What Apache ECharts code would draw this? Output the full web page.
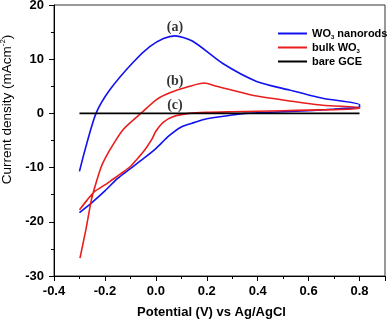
<!DOCTYPE html>
<html>
<head>
<meta charset="utf-8">
<script src="https://cdn.jsdelivr.net/npm/echarts@6/dist/echarts.min.js"></script>
<style>
  html, body { margin: 0; padding: 0; background: #fff; }
  #chart { width: 387px; height: 320px; }
</style>
</head>
<body>
<div id="chart"></div>
<script>
  // CV curves: [potential (V), current density (mA/cm2)]
  // forward sweep first, then the return sweep
  const nanorods = [
    [-0.30, -10.7], [-0.278, -6.7], [-0.235, 0], [-0.18, 4.4], [-0.09, 9.4], [-0.024, 12.3],
    [0.03, 13.8], [0.075, 14.3], [0.145, 13.3], [0.263, 9.2], [0.396, 5.9],
    [0.525, 4.3], [0.655, 2.8], [0.80, 1.6],
    [0.80, 1.2], [0.70, 0.8], [0.60, 0.5], [0.50, 0.3], [0.40, 0.1], [0.35, 0],
    [0.30, -0.3], [0.20, -1.0], [0.15, -1.7], [0.10, -2.5], [0.05, -4.2], [0.00, -6.5],
    [-0.05, -8.4], [-0.10, -10.2], [-0.15, -12.0], [-0.20, -14.3], [-0.25, -16.4], [-0.30, -18.3]
  ]
  const bulk = [
    [-0.298, -26.7], [-0.275, -21.5], [-0.253, -15.9], [-0.239, -13.5], [-0.214, -9.8],
    [-0.18, -6.7], [-0.129, -3.0], [-0.059, 0], [0.004, 2.6], [0.055, 3.8], [0.133, 5.0],
    [0.19, 5.6], [0.239, 5.0], [0.29, 4.4], [0.396, 3.2], [0.525, 2.3], [0.655, 1.5], [0.80, 1.1],
    [0.80, 0.9], [0.70, 0.7], [0.60, 0.6], [0.50, 0.5], [0.40, 0.4], [0.30, 0.3],
    [0.21, 0.2], [0.13, 0], [0.067, -0.6], [0.03, -1.6], [0.00, -3.3], [-0.016, -4.8],
    [-0.043, -6.7], [-0.075, -8.5], [-0.10, -9.8], [-0.14, -11.2], [-0.17, -12.2],
    [-0.20, -13.2], [-0.24, -14.4], [-0.27, -16.0], [-0.30, -17.8]
  ]
  const bareGCE = [[-0.30, 0], [0.80, 0]]

  const seriesNames = ['WO3 nanorods', 'bulk WO3', 'bare GCE']
  const seriesColors = ['#1212f0', '#ea1c1c', '#000000']

  // curve labels
  const annoLabels = ['(a)', '(b)', '(c)']
  const annoX = [0.075, 0.075, 0.075]
  const annoY = [15.9, 5.9, 1.5]

  const xTicks = { min: -0.4, max: 0.9, interval: 0.2 }
  const yTicks = { min: -30, max: 20, interval: 10 }

  const font = '"Liberation Sans", Arial, sans-serif'

  const makeLine = (name, data, color) => ({
    name,
    type: 'line',
    data,
    showSymbol: false,
    symbol: 'none',
    smooth: 0.25,
    lineStyle: { width: 1.6, color },
    itemStyle: { color },
    animation: false,
    z: name === 'bare GCE' ? 3 : 2
  })

  const chart = echarts.init(document.getElementById('chart'))
  chart.setOption({
    backgroundColor: '#fff',
    animation: false,
    grid: {
      left: 54, right: 2, top: 5, bottom: 44,
      outerBoundsMode: 'none',
      containLabel: false,
      show: true, borderColor: '#333', borderWidth: 1, backgroundColor: 'transparent'
    },
    legend: {
      data: seriesNames,
      orient: 'vertical',
      left: 273,
      top: 22,
      icon: 'rect',
      itemWidth: 29,
      itemHeight: 2,
      itemGap: 1,
      formatter: name => name.replace('WO3', 'WO{sub|3}'),
      textStyle: {
        fontFamily: font, fontSize: 11, fontWeight: 'bold', color: '#000', lineHeight: 13,
        rich: {
          sub: { fontFamily: font, fontSize: 6, fontWeight: 'bold', color: '#000', padding: [7, 0, 0, 0] }
        }
      }
    },
    xAxis: {
      type: 'value',
      min: xTicks.min,
      max: xTicks.max,
      interval: xTicks.interval,
      name: 'Potential (V) vs Ag/AgCl',
      nameLocation: 'middle',
      nameGap: 30,
      nameTextStyle: { fontFamily: font, fontSize: 13, fontWeight: 'bold', color: '#000', padding: [0, 16, 0, 0] },
      axisLine: { onZero: false, lineStyle: { color: '#000', width: 1 } },
      axisTick: { inside: false, length: 5, lineStyle: { color: '#000' } },
      minorTick: { show: true, splitNumber: 2, length: 3, lineStyle: { color: '#000' } },
      splitLine: { show: false },
      axisLabel: {
        margin: 9, fontFamily: font, fontSize: 13, fontWeight: 'bold', color: '#000',
        showMaxLabel: false,
        formatter: v => v.toFixed(1)
      }
    },
    yAxis: {
      type: 'value',
      min: yTicks.min,
      max: yTicks.max,
      interval: yTicks.interval,
      name: 'Current density (mAcm{sup|-2})',
      nameLocation: 'middle',
      nameGap: 34,
      nameTextStyle: {
        fontFamily: font, fontSize: 13.5, color: '#000', padding: [0, 0, 0, 62],
        rich: {
          sup: { fontFamily: font, fontSize: 8, color: '#000', padding: [0, 0, 9, 0] }
        }
      },
      axisLine: { onZero: false, lineStyle: { color: '#000', width: 1 } },
      axisTick: { inside: false, length: 5, lineStyle: { color: '#000' } },
      minorTick: { show: true, splitNumber: 2, length: 3, lineStyle: { color: '#000' } },
      splitLine: { show: false },
      axisLabel: { margin: 10, fontFamily: font, fontSize: 13, fontWeight: 'bold', color: '#000' }
    },
    series: [
      makeLine(seriesNames[0], nanorods, seriesColors[0]),
      makeLine(seriesNames[1], bulk, seriesColors[1]),
      makeLine(seriesNames[2], bareGCE, seriesColors[2]),
      {
        name: 'labels',
        type: 'scatter',
        symbolSize: 0,
        silent: true,
        data: annoLabels.map((t, i) => ({ value: [annoX[i], annoY[i]], name: t })),
        label: {
          show: true,
          position: 'inside',
          formatter: p => p.name,
          fontFamily: '"Liberation Serif", "Times New Roman", serif',
          fontSize: 14,
          fontWeight: 'bold',
          color: '#000'
        },
        z: 5
      }
    ]
  })
</script>
</body>
</html>
